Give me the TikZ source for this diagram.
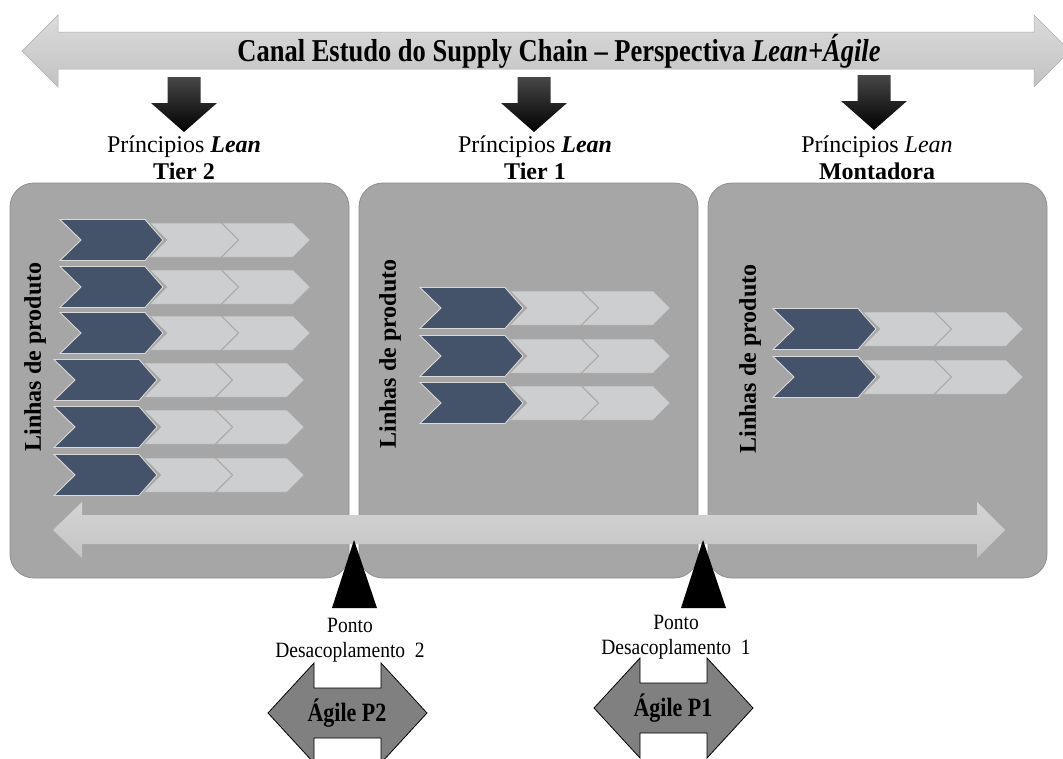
\documentclass[tikz,border=0pt]{standalone}
\usepackage{fontspec}
\setmainfont{Liberation Serif}
\definecolor{panelgray}{HTML}{A6A6A6}
\definecolor{panelline}{HTML}{8E8E8E}
\definecolor{slate}{HTML}{44536A}
\definecolor{chevlight}{HTML}{CDCED0}
\definecolor{agilegray}{HTML}{808080}
\newcommand{\tall}[2][1.2]{\scalebox{1}[#1]{#2}}
\tikzset{
  panel/.style={draw=panelline, line width=0.8pt, fill=panelgray, rounded corners=24pt,
    minimum width=339pt, minimum height=395pt, inner sep=0pt},
  darkchev/.style={fill=slate, draw=black!15, line width=0.9pt, line join=miter},
  lightchev/.style={fill=chevlight, draw=black!32, line width=0.5pt},
  vlabel/.style={rotate=90, font=\fontsize{24}{28}\selectfont\bfseries, inner sep=0pt},
  headlabel/.style={align=center, font=\fontsize{24}{27}\selectfont, inner sep=0pt},
  pointlabel/.style={align=center, font=\fontsize{19.5}{25}\selectfont, inner sep=0pt},
  agiletext/.style={font=\fontsize{22}{26}\selectfont\bfseries, inner sep=0pt},
  agilearrow/.style={fill=agilegray, draw=black, line width=0.8pt},
  decoupler/.style={fill=black},
  % one product line: a dark chevron followed by two light ones
  pics/chevrow/.style={code={
    \path[lightchev] (162,-17) -- (233,-17) -- (250,0) -- (233,17) -- (162,17) -- (179,0) -- cycle;
    \path[lightchev] (90,-17) -- (161,-17) -- (178,0) -- (161,17) -- (90,17) -- (107,0) -- cycle;
    \path[darkchev] (0,-20.5) -- (85,-20.5) -- (103,0) -- (85,20.5) -- (0,20.5) -- (21,0) -- cycle;
  }},
  % black block arrow pointing down, origin at its tip
  pics/downblock/.style={code={
    \shade[top color=black!72, bottom color=black, shading angle=0]
      (-16.5,-55) -- (16.5,-55) -- (16.5,-29) -- (33,-29) -- (0,0) -- (-33,-29) -- (-16.5,-29) -- cycle;
  }},
  % grey double arrow, origin at its centre
  pics/agileblock/.style={code={
    \path[agilearrow] (-79,0) -- (-33,-50) -- (-33,-25) -- (34,-25) -- (34,-50) -- (80,0)
      -- (34,50) -- (34,25) -- (-33,25) -- (-33,50) -- cycle;
  }}
}
\begin{document}
\begin{tikzpicture}[x=1pt,y=-1pt]
\clip (0,0) rectangle (1063,758);
\fill[white] (0,0) rectangle (1063,758);

% channel arrow across the top
\shade[top color=black!14, bottom color=black!24, draw=black!32, line width=0.5pt]
  (22,51) -- (58,15) -- (58,32) -- (1034,32) -- (1034,15) -- (1070,51)
  -- (1034,87) -- (1034,69) -- (58,69) -- (58,87) -- cycle;
\node[font=\fontsize{26.5}{30}\selectfont\bfseries, inner sep=0pt] (title) at (559,51)
  {\tall{Canal Estudo do Supply Chain – Perspectiva \textit{Lean+Ágile}}};

% principles arrows and stage headings
\pic at (184,132) {downblock};
\pic at (534,132) {downblock};
\pic at (874,130) {downblock};
\node[headlabel] (h2) at (184,158) {Príncipios \textbf{\textit{Lean}}\\\textbf{Tier 2}};
\node[headlabel] (h1) at (535,158) {Príncipios \textbf{\textit{Lean}}\\\textbf{Tier 1}};
\node[headlabel] (h0) at (877,158) {Príncipios \textit{Lean}\\\textbf{Montadora}};

% stage panels
\node[panel] (tier2) at (179.5,380.5) {};
\node[panel] (tier1) at (528.5,380.5) {};
\node[panel] (mont)  at (877.5,380.5) {};

% flow arrow along the bottom of the panels
\shade[top color=black!17, bottom color=black!23]
  (53,530) -- (82,502) -- (82,515) -- (977,515) -- (977,502) -- (1005,530)
  -- (977,558) -- (977,544) -- (82,544) -- (82,558) -- cycle;

% product lines, Tier 2
\pic at (60,240) {chevrow};
\pic at (60,287) {chevrow};
\pic at (60,333) {chevrow};
\pic at (54,380) {chevrow};
\pic at (54,427) {chevrow};
\pic at (54,475) {chevrow};
% product lines, Tier 1
\pic at (420,308) {chevrow};
\pic at (420,356) {chevrow};
\pic at (420,403) {chevrow};
% product lines, Montadora
\pic at (773,329) {chevrow};
\pic at (773,377) {chevrow};

\node[vlabel] (v2) at (35,357) {Linhas de produto};
\node[vlabel] (v1) at (390,354) {Linhas de produto};
\node[vlabel] (v0) at (750,359) {Linhas de produto};

% decoupling points
\path[decoupler] (354,540) -- (377,608) -- (332,608) -- cycle;
\path[decoupler] (703,540) -- (726,608) -- (681,608) -- cycle;
\node[pointlabel] (p2) at (350,640) {\tall[1.12]{Ponto}\\\tall[1.12]{Desacoplamento~~2}};
\node[pointlabel] (p1) at (676,637) {\tall[1.12]{Ponto}\\\tall[1.12]{Desacoplamento~~1}};

% agile zones
\pic at (347,713) {agileblock};
\node[agiletext] (a2) at (347,713) {\tall{Ágile P2}};
\pic at (673,708) {agileblock};
\node[agiletext] (a1) at (673,708) {\tall{Ágile P1}};
\end{tikzpicture}
\end{document}
